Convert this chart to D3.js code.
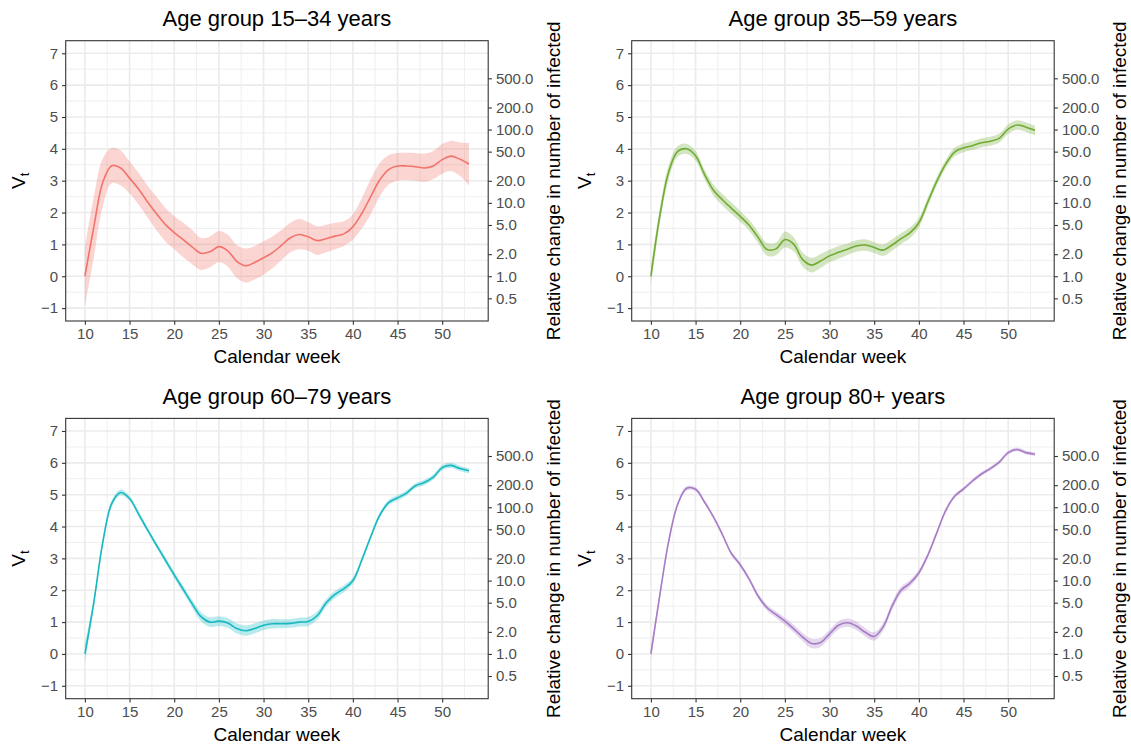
<!DOCTYPE html>
<html>
<head>
<meta charset="utf-8">
<script src="https://cdn.jsdelivr.net/npm/d3@7"></script>
<style>
  html, body { margin: 0; padding: 0; background: #fff; }
  svg { display: block; }
  text { font-family: "Liberation Sans", Arial, Helvetica, sans-serif; }
</style>
</head>
<body>
<svg id="chart" width="1131" height="745"></svg>
<script>
// ---------------- data ----------------
const weeks = d3.range(10, 54); // calendar weeks 10..53
const xTickValues = [10, 15, 20, 25, 30, 35, 40, 45, 50];
const yTickValues = [-1, 0, 1, 2, 3, 4, 5, 6, 7];
const rightTickValues = [0.5, 1, 2, 5, 10, 20, 50, 100, 200, 500];
const rightTickLabels = ["0.5", "1.0", "2.0", "5.0", "10.0", "20.0", "50.0", "100.0", "200.0", "500.0"];

const groupTitles = ["Age group 15\u201334 years", "Age group 35\u201359 years", "Age group 60\u201379 years", "Age group 80+ years"];
const groupColors = ["#F3736B", "#70AB33", "#16B9C2", "#A77CC6"];

// V_t estimates per week (10..53)
const v15_34 = [0.00, 1.55, 2.95, 3.47, 3.40, 3.08, 2.74, 2.34, 1.97, 1.63, 1.37, 1.15, 0.92, 0.72, 0.77, 0.93, 0.80, 0.47, 0.33, 0.43,
                0.58, 0.74, 0.97, 1.21, 1.31, 1.24, 1.12, 1.18, 1.26, 1.33, 1.55, 1.97, 2.50, 3.02, 3.35, 3.46, 3.46, 3.44, 3.40, 3.46,
                3.66, 3.77, 3.67, 3.52];
const lo15_34 = [-0.95, 0.60, 2.20, 2.92, 2.85, 2.60, 2.25, 1.85, 1.45, 1.10, 0.85, 0.60, 0.38, 0.20, 0.28, 0.45, 0.30, -0.05, -0.20, -0.10,
                 0.05, 0.25, 0.50, 0.75, 0.85, 0.80, 0.67, 0.75, 0.85, 0.95, 1.15, 1.50, 1.95, 2.50, 2.88, 3.00, 3.02, 3.00, 2.97, 3.05,
                 3.22, 3.30, 3.15, 2.85];
const hi15_34 = [0.90, 2.50, 3.70, 4.03, 3.95, 3.60, 3.25, 2.85, 2.50, 2.15, 1.88, 1.68, 1.45, 1.20, 1.25, 1.42, 1.30, 0.97, 0.87, 0.95,
                 1.10, 1.25, 1.45, 1.68, 1.80, 1.70, 1.57, 1.62, 1.68, 1.73, 1.95, 2.45, 3.05, 3.55, 3.80, 3.87, 3.88, 3.87, 3.85, 3.93,
                 4.15, 4.25, 4.20, 4.18];

const v35_59 = [0.00, 1.90, 3.28, 3.92, 4.00, 3.78, 3.20, 2.70, 2.40, 2.14, 1.88, 1.60, 1.22, 0.84, 0.86, 1.15, 1.00, 0.52, 0.35, 0.48,
                0.64, 0.75, 0.85, 0.95, 0.98, 0.90, 0.82, 0.98, 1.18, 1.36, 1.68, 2.33, 2.98, 3.52, 3.90, 4.03, 4.10, 4.19, 4.24, 4.33,
                4.62, 4.75, 4.68, 4.58];
const hw35_59 = [0.30, 0.25, 0.22, 0.17, 0.16, 0.15, 0.15, 0.17, 0.18, 0.18, 0.17, 0.17, 0.18, 0.20, 0.20, 0.25, 0.22, 0.22, 0.23, 0.22,
                 0.20, 0.20, 0.18, 0.18, 0.18, 0.17, 0.18, 0.18, 0.17, 0.17, 0.15, 0.14, 0.13, 0.13, 0.14, 0.14, 0.14, 0.14, 0.14, 0.14,
                 0.15, 0.15, 0.15, 0.15];

const v60_79 = [0.00, 1.62, 3.50, 4.72, 5.07, 4.88, 4.40, 3.90, 3.42, 2.95, 2.48, 2.03, 1.58, 1.17, 1.00, 1.03, 0.97, 0.80, 0.73, 0.80,
                0.90, 0.95, 0.95, 0.96, 1.00, 1.02, 1.20, 1.60, 1.87, 2.05, 2.30, 2.95, 3.68, 4.35, 4.75, 4.90, 5.05, 5.28, 5.38, 5.55,
                5.85, 5.92, 5.82, 5.75];
const hw60_79 = [0.30, 0.15, 0.12, 0.10, 0.09, 0.08, 0.08, 0.08, 0.08, 0.09, 0.10, 0.10, 0.12, 0.14, 0.15, 0.15, 0.15, 0.16, 0.16, 0.16,
                 0.15, 0.15, 0.14, 0.14, 0.14, 0.14, 0.13, 0.12, 0.11, 0.11, 0.10, 0.09, 0.08, 0.08, 0.08, 0.08, 0.08, 0.08, 0.08, 0.08,
                 0.08, 0.08, 0.08, 0.08];

const v80p = [0.00, 1.85, 3.55, 4.70, 5.20, 5.17, 4.77, 4.30, 3.75, 3.16, 2.80, 2.35, 1.82, 1.45, 1.24, 1.03, 0.79, 0.53, 0.33, 0.36,
              0.63, 0.90, 0.98, 0.88, 0.68, 0.55, 0.85, 1.50, 2.00, 2.22, 2.55, 3.10, 3.80, 4.50, 4.95, 5.18, 5.43, 5.65, 5.82, 6.02,
              6.32, 6.42, 6.32, 6.27];
const hw80p = [0.20, 0.10, 0.08, 0.07, 0.07, 0.06, 0.06, 0.06, 0.06, 0.06, 0.07, 0.07, 0.08, 0.09, 0.10, 0.11, 0.12, 0.13, 0.15, 0.14,
               0.13, 0.13, 0.13, 0.13, 0.13, 0.13, 0.12, 0.12, 0.11, 0.10, 0.09, 0.08, 0.07, 0.07, 0.06, 0.06, 0.06, 0.06, 0.06, 0.06,
               0.06, 0.06, 0.06, 0.06];

// build table for drawing
const panelsData = [
  { mid: v15_34, lo: lo15_34, hi: hi15_34 },
  { mid: v35_59, lo: v35_59.map((v, i) => v - hw35_59[i]), hi: v35_59.map((v, i) => v + hw35_59[i]) },
  { mid: v60_79, lo: v60_79.map((v, i) => v - hw60_79[i]), hi: v60_79.map((v, i) => v + hw60_79[i]) },
  { mid: v80p,   lo: v80p.map((v, i) => v - hw80p[i]),     hi: v80p.map((v, i) => v + hw80p[i]) }
];

// ---------------- layout ----------------
const svg = d3.select("#chart");
const W = 422.5, H = 280.3;
const lefts = [65.7, 631.7];
const tops = [40.7, 418.4];
const xDomain = [7.85, 55.15];
const yDomain = [-1.405, 7.395];
const gridColor = "#EBEBEB";
const darkGrey = "#333333";
const tickTextColor = "#4D4D4D";

panelsData.forEach((pd, k) => {
  const left = lefts[k % 2];
  const top = tops[Math.floor(k / 2)];
  const g = svg.append("g");

  const x = d3.scaleLinear().domain(xDomain).range([left, left + W]);
  const y = d3.scaleLinear().domain(yDomain).range([top + H, top]);
  const yR = d3.scaleLog().domain([Math.exp(yDomain[0]), Math.exp(yDomain[1])]).range([top + H, top]);

  // background
  g.append("rect").attr("x", left).attr("y", top).attr("width", W).attr("height", H).attr("fill", "#fff");

  // minor grid
  const xMinor = d3.range(12.5, 55, 5);
  const yMinor = d3.range(-0.5, 7.4, 1);
  g.selectAll(".xminor").data(xMinor).join("line")
    .attr("x1", d => x(d)).attr("x2", d => x(d)).attr("y1", top).attr("y2", top + H)
    .attr("stroke", gridColor).attr("stroke-width", 0.8);
  g.selectAll(".yminor").data(yMinor).join("line")
    .attr("x1", left).attr("x2", left + W).attr("y1", d => y(d)).attr("y2", d => y(d))
    .attr("stroke", gridColor).attr("stroke-width", 0.8);
  // major grid
  g.selectAll(".xmajor").data(xTickValues).join("line")
    .attr("x1", d => x(d)).attr("x2", d => x(d)).attr("y1", top).attr("y2", top + H)
    .attr("stroke", gridColor).attr("stroke-width", 1.6);
  g.selectAll(".ymajor").data(yTickValues).join("line")
    .attr("x1", left).attr("x2", left + W).attr("y1", d => y(d)).attr("y2", d => y(d))
    .attr("stroke", gridColor).attr("stroke-width", 1.6);

  // ribbon + line
  const pts = weeks.map((w, i) => ({ w, m: pd.mid[i], lo: pd.lo[i], hi: pd.hi[i] }));
  const curve = d3.curveCatmullRom.alpha(0.5);
  const area = d3.area().x(d => x(d.w)).y0(d => y(d.lo)).y1(d => y(d.hi)).curve(curve);
  const line = d3.line().x(d => x(d.w)).y(d => y(d.m)).curve(curve);
  g.append("path").datum(pts).attr("d", area).attr("fill", groupColors[k]).attr("fill-opacity", 0.3);
  g.append("path").datum(pts).attr("d", line).attr("fill", "none")
    .attr("stroke", groupColors[k]).attr("stroke-width", 1.6);

  // border
  g.append("rect").attr("x", left).attr("y", top).attr("width", W).attr("height", H)
    .attr("fill", "none").attr("stroke", darkGrey).attr("stroke-width", 1.1);

  // axes
  const styleAxis = sel => {
    sel.select(".domain").remove();
    sel.selectAll(".tick line").attr("stroke", darkGrey).attr("stroke-width", 1.1);
    sel.selectAll(".tick text").attr("fill", tickTextColor).style("font-size", "15px")
      .style("font-family", "'Liberation Sans', Arial, sans-serif");
  };
  g.append("g").attr("transform", `translate(0,${top + H})`)
    .call(d3.axisBottom(x).tickValues(xTickValues).tickSize(3.7).tickPadding(3.5))
    .call(styleAxis);
  g.append("g").attr("transform", `translate(${left},0)`)
    .call(d3.axisLeft(y).tickValues(yTickValues).tickSize(3.7).tickPadding(4)
      .tickFormat(d => d < 0 ? "\u2212" + Math.abs(d) : String(d)))
    .call(styleAxis);
  g.append("g").attr("transform", `translate(${left + W},0)`)
    .call(d3.axisRight(yR).tickValues(rightTickValues).tickSize(3.7).tickPadding(4)
      .tickFormat((d, i) => rightTickLabels[i]))
    .call(styleAxis);

  // titles
  g.append("text").attr("x", left + W / 2).attr("y", top - 14.5)
    .attr("text-anchor", "middle").style("font-size", "22px").attr("fill", "#000")
    .text(groupTitles[k]);
  g.append("text").attr("x", left + W / 2).attr("y", top + H + 42)
    .attr("text-anchor", "middle").style("font-size", "19px").attr("fill", "#000")
    .text("Calendar week");
  g.append("text")
    .attr("transform", `translate(${left + W + 71.5},${top + H / 2}) rotate(-90)`)
    .attr("text-anchor", "middle").style("font-size", "19px").attr("fill", "#000")
    .text("Relative change in number of infected");
  const vt = g.append("text")
    .attr("transform", `translate(${left - 41},${top + H / 2}) rotate(-90)`)
    .attr("text-anchor", "middle").style("font-size", "19px").attr("fill", "#000");
  vt.append("tspan").text("V");
  vt.append("tspan").attr("dy", "0.3em").style("font-size", "13px").text("t");
});
</script>
</body>
</html>
